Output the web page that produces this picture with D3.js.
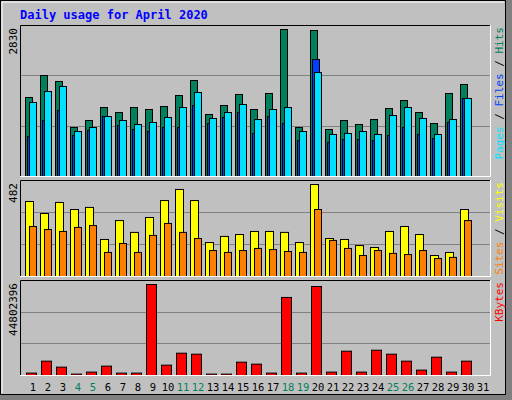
<!DOCTYPE html>
<html><head><meta charset="utf-8">
<script src="https://cdn.jsdelivr.net/npm/d3@7"></script>
<style>body{margin:0;background:#fff}svg text{font-family:"DejaVu Sans Mono",monospace}</style>
</head><body>
<script>
var days = d3.range(1, 32)
var weekend = [4, 5, 11, 12, 18, 19, 25, 26]
var hits = [1521,1944,1829,943,1078,1328,1232,1328,1290,1348,1559,1848,1194,1367,1579,1290,1598,2830,943,2811,905,1078,1001,1097,1309,1463,1232,1020,1598,1771,0]
var files = [1425,1636,1733,866,943,1155,1078,1001,1040,1136,1328,1617,1117,1232,1386,1097,1290,1328,866,2002,809,828,866,809,1174,1328,1117,809,1097,1502,0]
var pages = [770,1078,1271,789,886,1155,982,905,866,943,943,1367,1020,1136,1232,828,1155,1020,693,2252,655,712,712,693,789,943,809,732,1040,1502,0]
var visits = [393,330,388,351,362,194,293,231,309,398,456,398,178,210,220,236,236,231,178,482,199,194,162,152,236,262,220,110,126,351,0]
var sites = [262,246,236,257,267,126,173,126,215,278,231,199,136,126,136,147,141,131,126,351,189,147,110,136,121,115,136,94,100,293,0]
var kbytes = [1.18,7.06,4.12,0.69,1.67,4.61,1.18,1.18,44.80,5.10,10.98,10.49,0.69,0.69,6.57,5.59,1.18,38.43,1.18,43.82,1.67,11.96,1.67,12.45,10.49,7.06,2.65,9.02,1.67,7.06,0].map(d => d * 1e6)

var W = 512, H = 400
var svg = d3.select('body').append('svg').attr('width', W).attr('height', H)

// frame
svg.append('rect').attr('x', 0).attr('y', 0).attr('width', W).attr('height', H).attr('fill', '#808080')
svg.append('rect').attr('x', 0.5).attr('y', 0.5).attr('width', 505).attr('height', 394).attr('fill', '#c0c0c0').attr('stroke', '#000')
svg.append('path').attr('d', 'M2,393V2H504').attr('stroke', '#fff').attr('fill', 'none')

svg.append('text').attr('x', 20).attr('y', 19).attr('fill', '#0000ff')
	.attr('font-size', 12).attr('font-weight', 'bold').text('Daily usage for April 2020')

var x = d3.scaleBand().domain(days).range([20, 485]).paddingInner(0)
var x0 = 25 - x(1)

function panel(top, bottom, max, barTop, label, series, rightLabels) {
	var y = d3.scaleLinear().domain([0, max]).range([bottom, barTop])
	var g = svg.append('g')
	g.append('rect').attr('x', 20).attr('y', top).attr('width', 471).attr('height', bottom - top).attr('fill', '#c0c0c0')
	var h = bottom - top
	;[1 / 3, 2 / 3].forEach(f => g.append('line').attr('x1', 21).attr('x2', 490)
		.attr('y1', Math.round(top + h * f) + 0.5).attr('y2', Math.round(top + h * f) + 0.5).attr('stroke', '#808080'))
	series.forEach(s => {
		g.selectAll(null).data(s.data).enter().append('rect')
			.attr('x', (d, i) => x(days[i]) + x0 + s.dx + 0.5)
			.attr('width', s.w)
			.attr('y', d => y(d) + 0.5)
			.attr('height', d => d > 0 ? bottom - y(d) : 0)
			.attr('fill', s.color).attr('stroke', '#000')
	})
	g.append('path').attr('d', `M20.5,${bottom}V${top + 0.5}H491`).attr('stroke', '#000').attr('fill', 'none')
	g.append('path').attr('d', `M20,${bottom + 0.5}H490.5V${top}`).attr('stroke', '#fff').attr('fill', 'none')
	g.append('text').attr('transform', `translate(17,${top + 3}) rotate(-90)`).attr('text-anchor', 'end')
		.attr('font-size', 11).attr('fill', '#000').text(label)
	var t = g.append('text').attr('transform', `translate(496,${top + 2}) rotate(90)`)
		.attr('font-size', 11).attr('text-anchor', 'start')
	// text reads bottom-to-top: rotate -90, anchored at top
	t.attr('transform', `translate(503,${top + 2}) rotate(-90)`).attr('text-anchor', 'end')
	rightLabels.forEach((r, i) => {
		if (i > 0) t.append('tspan').attr('fill', '#000').text(' / ')
		t.append('tspan').attr('fill', r[1]).text(r[0])
	})
}

panel(25, 176, 2830, 29, '2830', [
	{ data: hits, color: '#00805c', dx: 0, w: 7 },
	{ data: pages, color: '#0040ff', dx: 2, w: 7 },
	{ data: files, color: '#00e0ff', dx: 4, w: 7 }
], [['Pages', '#00e0ff'], ['Files', '#0040ff'], ['Hits', '#00805c']])

panel(180, 276, 482, 184, '482', [
	{ data: visits, color: '#ffff00', dx: 0, w: 8 },
	{ data: sites, color: '#ff8000', dx: 4, w: 7 }
], [['Sites', '#ff8000'], ['Visits', '#ffff00']])

panel(280, 375, 44802396, 284, '44802396', [
	{ data: kbytes, color: '#ff0000', dx: 1, w: 10 }
], [['KBytes', '#ff0000']])

svg.selectAll('.day').data(days).enter().append('text')
	.attr('x', d => x(d) + x0 + 8).attr('y', 391).attr('text-anchor', 'middle')
	.attr('font-size', 10.5)
	.attr('fill', d => weekend.includes(d) ? '#00805c' : '#000')
	.text(d => d)
</script>
</body></html>
